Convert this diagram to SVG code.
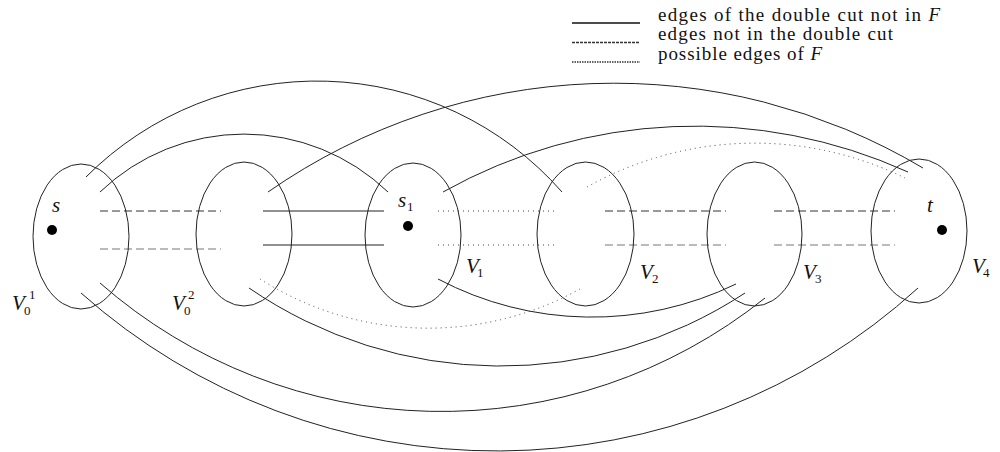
<svg xmlns="http://www.w3.org/2000/svg" width="1000" height="452" viewBox="0 0 1000 452">
<style>
.set{fill:none;stroke:#222;stroke-width:1}
.dot{fill:#000}
.e{fill:none;stroke:#222;stroke-width:1}
.dash{fill:none;stroke:#333;stroke-width:1;stroke-dasharray:8 4}
.dash2{fill:none;stroke:#777;stroke-width:1;stroke-dasharray:8 4}
.dotted{fill:none;stroke:#444;stroke-width:1;stroke-dasharray:1 4}
.lbl{font-family:"Liberation Serif","DejaVu Serif",serif;font-style:italic;font-size:21px;fill:#111}
.sub{font-family:"Liberation Serif","DejaVu Serif",serif;font-size:13px;fill:#111}
.leg{font-family:"Liberation Serif","DejaVu Serif",serif;font-size:19px;fill:#111}
.legi{font-style:italic}
</style>
<g id="legend">
<line x1="572" y1="23" x2="640" y2="23" stroke="#111" stroke-width="1.3"/>
<line x1="572" y1="42.5" x2="640" y2="42.5" stroke="#333" stroke-width="1.3" stroke-dasharray="3 1"/>
<line x1="572" y1="62" x2="640" y2="62" stroke="#333" stroke-width="1.3" stroke-dasharray="1.5 1"/>
<text class="leg" x="658" y="20.5" textLength="282" lengthAdjust="spacing">edges of the double cut not in <tspan class="legi">F</tspan></text>
<text class="leg" x="658" y="40" textLength="235" lengthAdjust="spacing">edges not in the double cut</text>
<text class="leg" x="658" y="59.5" textLength="164" lengthAdjust="spacing">possible edges of <tspan class="legi">F</tspan></text>
</g>
<g id="connectors">
<line class="dash" x1="100" y1="211" x2="221" y2="211"/>
<line class="dash2" x1="100" y1="249" x2="221" y2="249"/>
<line class="e" x1="263" y1="211" x2="384" y2="211"/>
<line class="e" x1="263" y1="245" x2="384" y2="245"/>
<line class="dotted" x1="438" y1="211" x2="557" y2="211"/>
<line class="dotted" x1="438" y1="245" x2="557" y2="245"/>
<line class="dash" x1="605" y1="211" x2="726" y2="211"/>
<line class="dash2" x1="605" y1="245" x2="726" y2="245"/>
<line class="dash" x1="774" y1="211" x2="895" y2="211"/>
<line class="dash2" x1="774" y1="245" x2="895" y2="245"/>
<path class="e" d="M86,177 A326,326 0 0 1 562,192"/>
<path class="e" d="M100,192 A208,208 0 0 1 388,192"/>
<path class="e" d="M268,192 A605,605 0 0 1 923,168"/>
<path class="e" d="M443,192 A516,516 0 0 1 908,172"/>
<path class="dotted" d="M587,187 A342,342 0 0 1 905,178"/>
<path class="e" d="M81,293 A626,626 0 0 0 918,288"/>
<path class="e" d="M100,283 A518,518 0 0 0 765,298"/>
<path class="e" d="M249,288 A445,445 0 0 0 745,293"/>
<path class="e" d="M438,279 A330,330 0 0 0 736,284"/>
<path class="dotted" d="M260,279 A313,313 0 0 0 580,289"/>
</g>
<g id="V0_1">
<ellipse class="set" cx="81" cy="236.5" rx="48" ry="72.5"/>
<circle class="dot" cx="52" cy="230" r="5"/>
<text class="lbl" x="52" y="212">s</text>
<text class="lbl" x="12" y="310">V</text>
<text class="sub" x="29" y="299">1</text>
<text class="sub" x="24" y="315">0</text>
</g>
<g id="V0_2">
<ellipse class="set" cx="244" cy="234" rx="48" ry="72"/>
<text class="lbl" x="172" y="310">V</text>
<text class="sub" x="188" y="299">2</text>
<text class="sub" x="184" y="315">0</text>
</g>
<g id="V1">
<ellipse class="set" cx="413" cy="235" rx="48" ry="72"/>
<circle class="dot" cx="408" cy="226" r="5"/>
<text class="lbl" x="398" y="207">s</text>
<text class="sub" x="407" y="211">1</text>
<text class="lbl" x="466" y="273">V</text>
<text class="sub" x="477" y="277">1</text>
</g>
<g id="V2">
<ellipse class="set" cx="585.5" cy="234" rx="48.5" ry="72"/>
<text class="lbl" x="640" y="279">V</text>
<text class="sub" x="652" y="283">2</text>
</g>
<g id="V3">
<ellipse class="set" cx="754.5" cy="234" rx="47.5" ry="72"/>
<text class="lbl" x="803" y="279">V</text>
<text class="sub" x="815" y="283">3</text>
</g>
<g id="V4">
<ellipse class="set" cx="919" cy="231" rx="48" ry="72"/>
<circle class="dot" cx="942" cy="230" r="5"/>
<text class="lbl" x="927" y="212">t</text>
<text class="lbl" x="972" y="273">V</text>
<text class="sub" x="983" y="277">4</text>
</g>
</svg>
